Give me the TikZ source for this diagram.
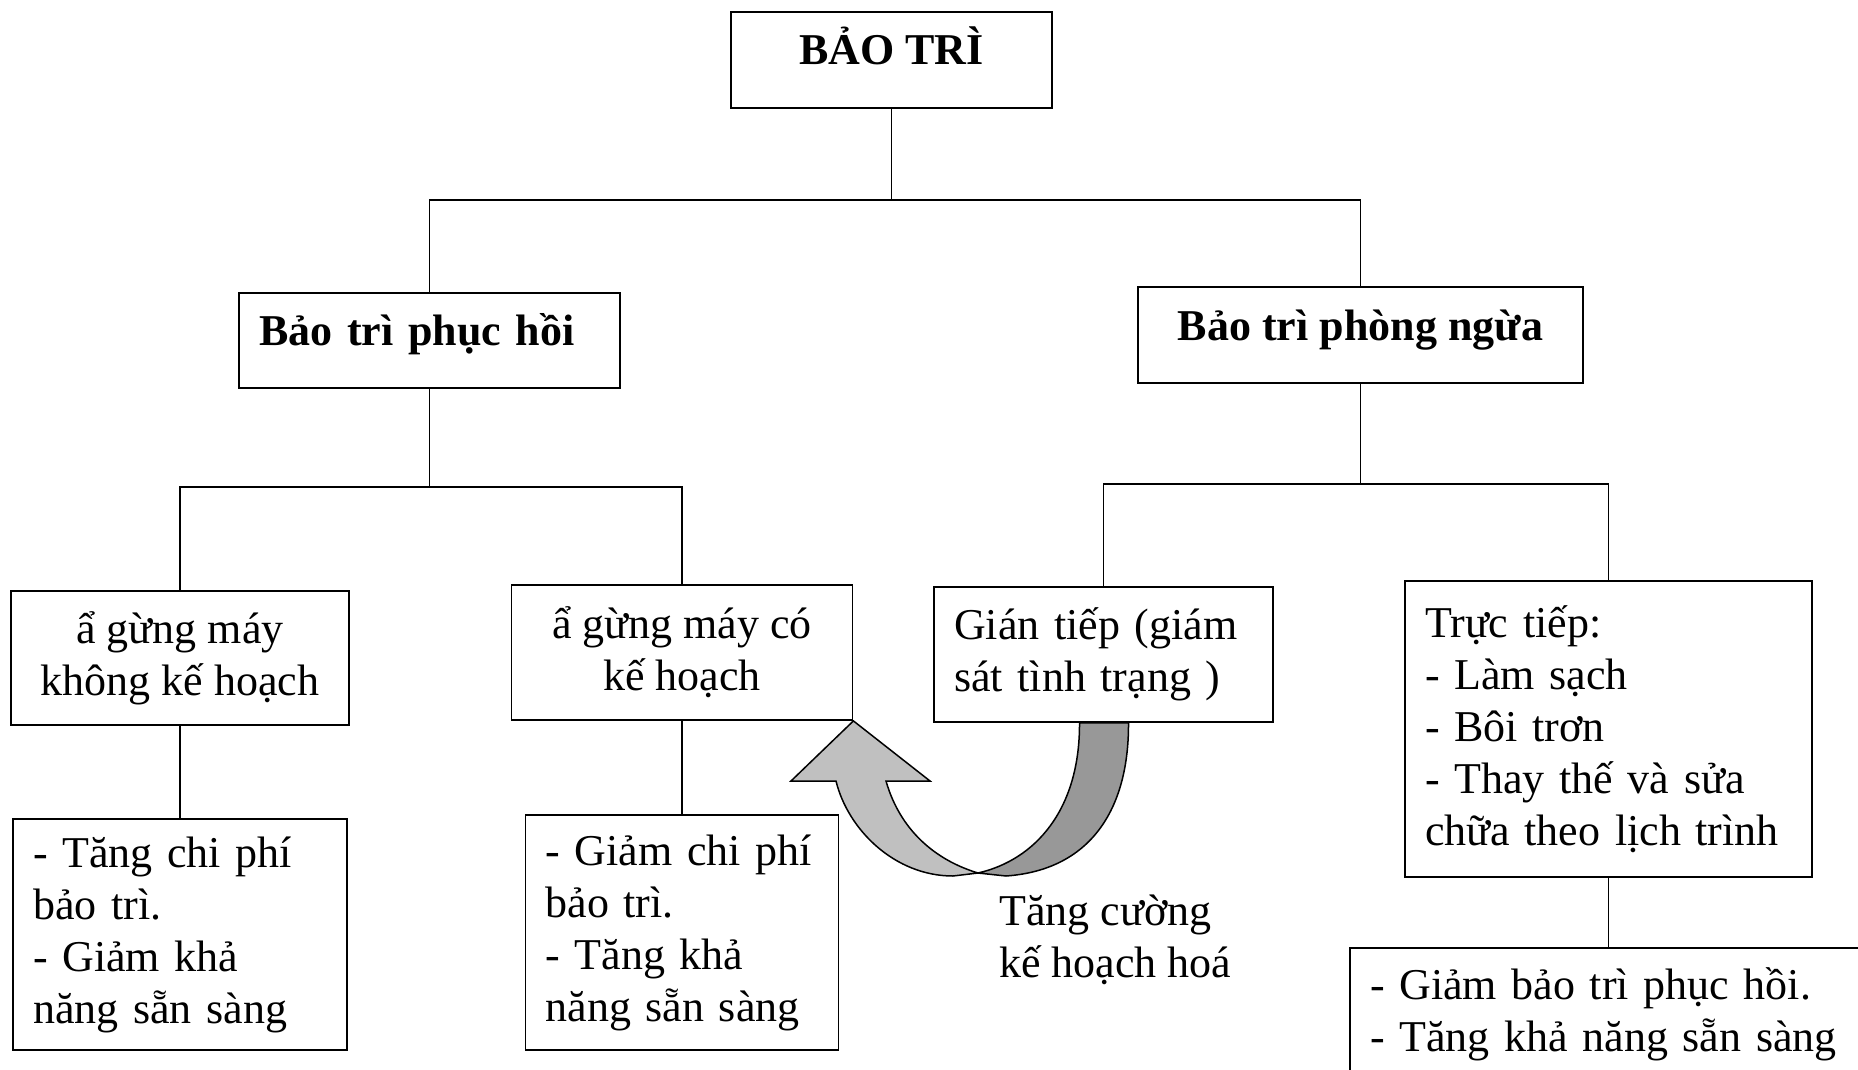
\documentclass[tikz,border=0pt]{standalone}
\usepackage{fontspec}
\setmainfont{Liberation Serif}
\usetikzlibrary{positioning, calc}
\definecolor{arrowlight}{RGB}{192,192,192}
\definecolor{arrowdark}{RGB}{152,152,152}

\begin{document}
\begin{tikzpicture}[x=1pt, y=-1pt,
  box/.style={rectangle, draw, line width=1.8pt, inner sep=10pt, align=center,
    font=\fontsize{44}{52}\selectfont},
  head/.style={box, font=\fontsize{44}{52}\selectfont\bfseries, text height=40pt, text depth=30pt},
  list/.style={box, align=left, inner xsep=20pt},
  link/.style={line width=1.5pt}]
  \useasboundingbox (0,0) rectangle (1858,1070);
  \clip (0,0) rectangle (1858,1070);

  % levels of the tree
  \node[head, minimum width=321pt, minimum height=96pt] (root) at (891.5,60) {BẢO TRÌ};
  \node[head, align=left, inner xsep=20pt, text width=341pt, minimum height=95pt] (rest) at (429.5,340.5) {Bảo trì phục hồi};
  \node[head, minimum width=445pt, minimum height=96pt] (prev) at (1360.5,335) {Bảo trì phòng ngừa};

  \node[box, minimum width=338pt, minimum height=134pt] (unpl) at (180,658) {ẩ gừng máy\\không kế hoạch};
  \node[box, minimum width=341pt, minimum height=135pt] (plan) at (682,652.5) {ẩ gừng máy có\\kế hoạch};
  \node[list, text width=299pt, minimum height=135pt] (indir) at (1103.5,654.5) {Gián tiếp (giám\\sát tình trạng )};
  \node[list, text width=367pt, minimum height=296pt] (dir) at (1608.5,729) {Trực tiếp:\\- Làm sạch\\- Bôi trơn\\- Thay thế và sửa\\chữa theo lịch trình};

  \node[list, text width=294pt, minimum height=231pt] (unplres) at (180,934.5) {- Tăng chi phí\\bảo trì.\\- Giảm khả\\năng sẵn sàng};
  \node[list, text width=273pt, minimum height=235pt] (planres) at (682,932.5) {- Giảm chi phí\\bảo trì.\\- Tăng khả\\năng sẵn sàng};
  \node[list, text width=490pt, minimum height=132pt] (dirres) at (1615,1014) {- Giảm bảo trì phục hồi.\\- Tăng khả năng sẵn sàng};

  % connectors
  \coordinate (j0) at (891.5,200);
  \coordinate (j1) at (429.5,487);
  \coordinate (j2) at (1360.5,484);
  \draw[link] (root) -- (j0);
  \draw[link] (rest) |- (j0) -| (prev);
  \draw[link] (rest) -- (j1);
  \draw[link] (unpl) |- (j1) -| (plan);
  \draw[link] (prev) -- (j2);
  \draw[link] (indir) |- (j2) -| (dir);
  \draw[link] (unpl) -- (unplres);
  \draw[link] (plan) -- (planres);
  \draw[link] (dir) -- (dir |- dirres.north);

  % curved block arrow
  \filldraw[fill=arrowdark, line width=1.5pt] ($(indir.south)+(-24,0)$) .. controls (1080,810) and (1035,860) .. (978,873)
    -- (1006,876) .. controls (1090,870) and (1129,810) .. ($(indir.south)+(25,0)$) -- cycle;
  \filldraw[fill=arrowlight, line width=1.5pt] (plan.south east) -- (930,781) -- (886,781)
    .. controls (900,830) and (935,860) .. (978,873) -- (953,876)
    .. controls (895,876) and (848,830) .. (836,781) -- (791,781) -- cycle;
  \node[font=\fontsize{44}{52}\selectfont, align=left, inner sep=0pt, anchor=west] (note) at (999,940) {Tăng cường\\kế hoạch hoá};
\end{tikzpicture}
\end{document}
